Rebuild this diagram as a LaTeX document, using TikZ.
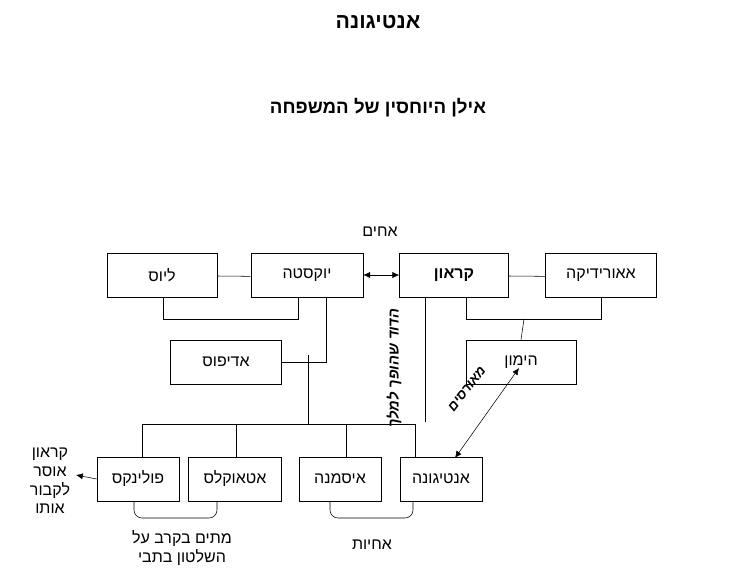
\documentclass[tikz,border=0pt]{standalone}
\usepackage{fontspec}
\setmainfont{Liberation Sans}
\newfontfamily\hebfont[Script=Hebrew]{Liberation Sans}
\TeXXeTstate=1
\usetikzlibrary{arrows.meta}
\tikzset{>={Latex[width=1.6mm,length=1.8mm]}}
\newcommand{\heb}[1]{\hebfont\beginR #1\endR}

\begin{document}
\begin{tikzpicture}[x=0.75pt, y=-0.75pt, font=\fontsize{12}{14}\selectfont, person/.style={draw, minimum width=#1*0.75pt, minimum height=33pt, inner sep=0pt}, note/.style={align=center, inner sep=1pt}]
    \useasboundingbox (0,0) rectangle (751,570);
    
    %Titles
    \node[font=\fontsize{16}{18}\selectfont\bfseries](title) at (378,22){\heb{אנטיגונה}};
    \node[font=\fontsize{14}{16}\selectfont\bfseries](subtitle) at (378,108){\heb{אילן היוחסין של המשפחה}};
    
    %Nodes
    \node[person=110](laius) at (162,275){\heb{ליוס}};
    \node[person=112](jocasta) at (307,275){\heb{יוקסטה}};
    \node[person=109](creon) at (454,275){\textbf{\heb{קראון}}};
    \node[person=111](eurydice) at (601,275){\heb{אאורידיקה}};
    \node[person=111](oedipus) at (226,362){\heb{אדיפוס}};
    \node[person=110](haemon) at (521,362){\heb{הימון}};
    \node[person=82](polynices) at (138,479){\heb{פולינקס}};
    \node[person=93](eteocles) at (235,479){\heb{אטאוקלס}};
    \node[person=82](ismene) at (340,479){\heb{איסמנה}};
    \node[person=82](antigone) at (441,479){\heb{אנטיגונה}};
    \node[note](brothers) at (380,232){\heb{אחים}};
    \node[note](sisters) at (372,545){\heb{אחיות}};
    \node[note](fought) at (182,548){\heb{מתים בקרב על}\\\heb{השלטון בתבי}};
    \node[note](forbid) at (50,481){\heb{קראון}\\\heb{אוסר}\\\heb{לקבור}\\\heb{אותו}};
    \coordinate(king_end) at (425,422);
    \node[note, rotate=90, font=\fontsize{11}{13}\selectfont\bfseries\itshape](king) at (394,368){\heb{הדוד שהופך למלך}};
    \node[note, rotate=52, font=\fontsize{10}{12}\selectfont\bfseries\itshape](engaged) at (467,389){\heb{מאורסים}};
    \coordinate(oedipus_join) at (308,355);
    \coordinate(kids_join) at (308,424);
    
    %Lines
    \draw (laius.east) ++(0,1) -- ([yshift=-1pt]jocasta.west);
    \draw (creon.east) ++(0,1) -- ([yshift=-1pt]eurydice.west);
    \draw[<->] (jocasta.east) -- (creon.west);
    \draw (163,297) |- (298,319) -- (298,297);
    \draw (466,297) |- (601,319) -- (601,297);
    \draw (524,319) -- (haemon.north);
    \draw (326,297) |- (oedipus.east);
    \draw (oedipus_join) -- (kids_join);
    \draw (142,457) |- (415,424) -- (415,457);
    \draw (236,424) -- (236,457);
    \draw (346,424) -- (346,457);
    \draw (425,297) -- (king_end);
    \draw[<->] (519,368) -- (455,458);
    \draw[->] (polynices.west) -- (76,475);
    \draw[rounded corners=6pt] (134,501) |- (217,518) -- (217,501);
    \draw[rounded corners=6pt] (330,501) |- (413,518) -- (413,501);
    
\end{tikzpicture}
\end{document}
